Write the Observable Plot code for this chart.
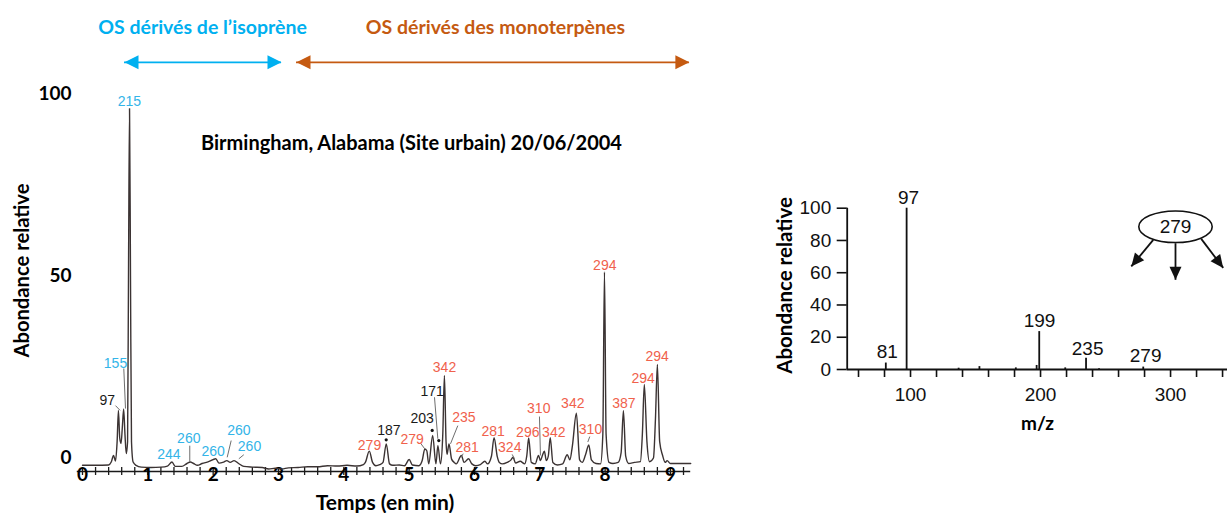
<!DOCTYPE html>
<html lang="fr">
<head>
<meta charset="utf-8">
<title>Chromatogramme</title>
<script src="https://cdn.jsdelivr.net/npm/d3@7"></script>
<script src="https://cdn.jsdelivr.net/npm/@observablehq/plot@0.6"></script>
<style>
  html, body { margin: 0; padding: 0; background: #fff; }
  #wrap { position: relative; width: 1227px; height: 513px; overflow: hidden; background: #fff; }
  #left { position: absolute; left: 0; top: 0; }
  #right { position: absolute; left: 760px; top: 0; }
  svg { display: block; }
</style>
</head>
<body>
<div id="wrap"><div id="left"></div><div id="right"></div></div>
<script>
// ================= DATA =================
// Chromatogram trace: [time (min), relative abundance]
const chromatogram = [
  [0.00,-0.5],[0.20,-0.5],[0.40,-0.4],[0.44,0.4],[0.475,2.2],[0.505,0.7],[0.53,6],[0.55,14.6],
  [0.57,7],[0.59,5.5],[0.61,10],[0.63,15.0],[0.65,8],[0.67,2.7],[0.69,6],[0.705,55],[0.72,97.5],
  [0.735,50],[0.75,6],[0.775,0.4],[0.82,-0.5],[0.90,-1.0],[1.05,-1.1],[1.20,-1.0],[1.30,-0.7],
  [1.37,0.4],[1.42,-0.8],[1.52,-0.8],[1.60,0.0],[1.65,0.4],[1.70,0.0],[1.76,-0.5],[1.83,0.0],
  [1.93,0.5],[2.04,1.3],[2.09,0.1],[2.16,0.4],[2.21,0.8],[2.26,0.3],[2.32,0.8],[2.39,0.0],
  [2.47,-0.8],[2.60,-1.0],[2.75,-1.1],[2.85,-1.5],[2.95,-1.3],[3.05,-1.5],[3.15,-1.2],[3.30,-1.1],
  [3.45,-0.9],[3.60,-0.9],[3.75,-0.6],[3.90,-0.7],[4.05,-0.5],[4.20,-0.7],[4.30,-0.3],
  [4.33,0.3],[4.39,3.4],[4.44,0.3],[4.49,-0.6],[4.55,-0.3],[4.60,0.3],[4.65,5.4],[4.70,-0.1],
  [4.75,-0.5],[4.85,-0.4],[4.93,-0.6],[5.00,1.1],[5.05,-0.4],[5.15,-0.6],[5.20,0.8],[5.24,4.0],
  [5.27,3.5],[5.30,-0.1],[5.36,7.7],[5.41,-0.1],[5.44,4.9],[5.48,-0.1],[5.515,8],[5.54,24.2],
  [5.565,6],[5.58,2.5],[5.61,5.4],[5.65,1.2],[5.69,0.3],[5.72,-0.1],[5.80,2.2],[5.84,0.3],
  [5.91,1.3],[5.96,-0.1],[6.02,-0.6],[6.09,-0.3],[6.16,0.6],[6.20,-0.1],[6.26,2],[6.30,7.1],
  [6.35,1.8],[6.38,0.3],[6.43,-0.1],[6.50,0.3],[6.56,1.0],[6.59,1.7],[6.63,0.1],[6.70,0.6],
  [6.77,-0.1],[6.80,2],[6.83,7.0],[6.87,0.3],[6.93,-0.1],[6.98,2.2],[7.01,0.8],[7.04,2.2],
  [7.07,3.4],[7.10,0.8],[7.13,2],[7.16,7.1],[7.20,0.3],[7.27,-0.4],[7.35,-0.1],[7.42,2.4],
  [7.46,1.0],[7.50,5],[7.56,13.8],[7.61,1.0],[7.65,0.3],[7.70,2.4],[7.75,5.1],[7.79,1.0],
  [7.86,0.0],[7.93,-0.1],[7.965,8],[7.99,52.6],[8.015,8],[8.06,0.3],[8.12,0.0],[8.20,0.3],
  [8.245,3],[8.28,14.5],[8.315,2],[8.36,0.0],[8.45,0.3],[8.54,0.5],[8.57,8],[8.60,21.7],
  [8.64,6],[8.68,0.5],[8.74,1.5],[8.77,12],[8.80,27.2],[8.835,6],[8.88,2.2],[8.92,0.3],
  [8.95,0.8],[9.00,0.0],[9.15,0.0],[9.31,0.0]
];

// Peak labels (m/z of the organosulfate), position in data units, family
const peakLabelText  = ["215","155","97","244","260","260","260","260","279","187","279","203","171","342","235","281","281","324","296","310","342","342","310","294","387","294","294"];
const peakLabelTime  = [0.719,0.505,0.378,1.321,1.627,2.000,2.393,2.556,4.393,4.689,5.047,5.200,5.353,5.541,5.837,5.889,6.286,6.540,6.816,6.984,7.214,7.505,7.776,7.995,8.286,8.582,8.797];
const peakLabelAbund = [99.5,27.6,17.3,2.5,6.8,3.4,9.1,4.7,4.9,9.1,6.5,12.3,19.8,26.3,12.6,4.3,8.9,4.3,8.6,15.0,8.6,16.4,9.3,54.4,16.4,23.3,29.4];
const peakLabelGroup = ["iso","iso","other","iso","iso","iso","iso","iso","mono","other","mono","other","other","mono","mono","mono","mono","mono","mono","mono","mono","mono","mono","mono","mono","mono","mono"];

// Leader lines from labels to peaks
const leaderT1 = [0.632,0.505,1.642,2.276,2.469,5.174,5.388,5.745,5.827,6.577,6.995,7.765];
const leaderV1 = [26.1,15.9,4.9,6.3,2.4,5.6,18.2,10.4,2.7,2.5,12.9,7.4];
const leaderT2 = [0.658,0.575,1.642,2.215,2.393,5.240,5.439,5.633,5.797,6.613,7.010,7.735];
const leaderV2 = [15.1,14.6,0.4,1.7,1.3,4.0,6.8,5.4,1.7,1.3,2.2,5.9];

// Asterisk markers
const starTime  = [4.649,5.353,5.454];
const starAbund = [6.5,9.1,6.3];

// Section headers and arrows
const sectionTitle = ["OS dérivés de l’isoprène","OS dérivés des monoterpènes"];
const sectionTitleTime = [1.837,6.320];
const sectionColor = ["#00b0f0","#c55a11"];
const sectionStart = [0.643,3.276];
const sectionEnd   = [3.046,9.290];
const sectionTitleLevel = 119.8;
const sectionArrowLevel = 110.2;

const chartTitle = "Birmingham, Alabama (Site urbain) 20/06/2004";
const chartTitleTime = 5.036, chartTitleLevel = 87.9;

const xTickLabels = [0,1,2,3,4,5,6,7,8,9];
const xMinorTicks = d3.range(0, 47).map(i => i / 5);
const yTickLabels = [0,50,100];

// Mass spectrum (right)
const msMz    = [81, 97, 137, 153, 181, 197, 199, 219, 235, 245, 279];
const msAbund = [4, 100, 0.8, 1.8, 1, 2.5, 23.5, 1, 7, 0.4, 1.5];
const msLabelText  = ["97","81","199","235","279"];
const msLabelMz    = [98.5, 82.1, 199.2, 236.2, 280.8];
const msLabelAbund = [106.6, 10.7, 30.4, 13.0, 8.7];
const msYTicks = [0,20,40,60,80,100];
const msXTicks = [60,80,100,120,140,160,180,200,220,240,260,280,300,320,340];
const msDomain = [51.3, 343.8];

// Fragmentation scheme
const fragCenterMz = 303.8, fragCenterAbund = 88.5, fragText = "279";
const fragX1 = [286.7, 303.8, 323.6];
const fragY1 = [80.4, 78.3, 81.0];
const fragX2 = [269.8, 303.8, 340.5];
const fragY2 = [63.9, 55.6, 63.0];

// ================= STYLE =================
const F_BOLD = "Lato, 'Open Sans', sans-serif";
const F_ARIAL = "'Liberation Sans', Arial, Helvetica, sans-serif";
const groupColor = {iso: "#33b4e8", mono: "#f0614c", other: "#1a1a1a"};

function arrowHead(angle, len, half) {
  const c = Math.cos(angle), s = Math.sin(angle);
  return {
    draw(ctx) {
      const bx = -len * c, by = -len * s;
      ctx.moveTo(0, 0);
      ctx.lineTo(bx - half * s, by + half * c);
      ctx.lineTo(bx + half * s, by - half * c);
      ctx.closePath();
    }
  };
}
function ellipseSymbol(a, b) {
  const k = 0.5523;
  return {
    draw(ctx) {
      ctx.moveTo(a, 0);
      ctx.bezierCurveTo(a, k * b, k * a, b, 0, b);
      ctx.bezierCurveTo(-k * a, b, -a, k * b, -a, 0);
      ctx.bezierCurveTo(-a, -k * b, -k * a, -b, 0, -b);
      ctx.bezierCurveTo(k * a, -b, a, -k * b, a, 0);
      ctx.closePath();
    }
  };
}

// ================= LEFT: chromatogram =================
const idxPeak = d3.range(peakLabelText.length);
const idxLead = d3.range(leaderT1.length);
const idxSec = d3.range(sectionTitle.length);

const left = Plot.plot({
  width: 720, height: 513,
  marginLeft: 82, marginRight: 29.8, marginTop: 8, marginBottom: 35.44,
  x: {domain: [0, 9.31], axis: null},
  y: {domain: [-4, 125], axis: null},
  color: {type: "identity"},
  style: {background: "white", overflow: "visible"},
  marks: [
    // x axis
    Plot.ruleY([-2.2], {x1: -0.08, x2: 9.31, stroke: "#1a1a1a", strokeWidth: 1.6}),
    Plot.ruleX(xMinorTicks, {x: d => d, y1: -1.1, y2: -3.3, stroke: "#1a1a1a", strokeWidth: 1.3}),
    Plot.text(xTickLabels, {x: d => d, y: () => -3.0, text: d => String(d), fontSize: 19, fontWeight: "bold", fontFamily: F_BOLD, fill: "#000"}),
    Plot.text(["Temps (en min)"], {x: () => 4.63, y: () => -11, text: d => d, fontSize: 21, fontWeight: "bold", fontFamily: F_BOLD, fill: "#000"}),
    // y axis labels
    Plot.text(yTickLabels, {frameAnchor: "left", y: d => d, text: d => String(d), textAnchor: "end", dx: -11, dy: -6, fontSize: 19, fontWeight: "bold", fontFamily: F_BOLD, fill: "#000"}),
    Plot.text(["Abondance relative"], {x: () => -0.923, y: () => 53.0, rotate: -90, text: d => d, fontSize: 20.2, fontWeight: "bold", fontFamily: F_BOLD, fill: "#000"}),
    // trace
    Plot.line(chromatogram, {x: d => d[0], y: d => d[1], curve: "monotone-x", stroke: "#3b3333", strokeWidth: 1.4}),
    // leader lines
    Plot.link(idxLead, {x1: i => leaderT1[i], y1: i => leaderV1[i], x2: i => leaderT2[i], y2: i => leaderV2[i], stroke: "#6e6e6e", strokeWidth: 1}),
    // stars
    Plot.dot(d3.range(starTime.length), {x: i => starTime[i], y: i => starAbund[i], r: 1.6, fill: "#111", stroke: "none"}),
    // peak labels
    Plot.text(idxPeak, {x: i => peakLabelTime[i], y: i => peakLabelAbund[i], text: i => peakLabelText[i], fill: i => groupColor[peakLabelGroup[i]], fontSize: 14, fontFamily: F_ARIAL}),
    // chart title
    Plot.text([chartTitle], {x: () => chartTitleTime, y: () => chartTitleLevel, text: d => d, fontSize: 20, fontWeight: "bold", fontFamily: F_BOLD, fill: "#000"}),
    // section titles and arrows
    Plot.text(idxSec, {x: i => sectionTitleTime[i], y: () => sectionTitleLevel, text: i => sectionTitle[i], fill: i => sectionColor[i], fontSize: 19.5, fontWeight: "bold", fontFamily: F_BOLD}),
    Plot.ruleY(idxSec, {y: () => sectionArrowLevel, x1: i => sectionStart[i], x2: i => sectionEnd[i], stroke: i => sectionColor[i], strokeWidth: 1.6}),
    Plot.dot(idxSec, {x: i => sectionStart[i], y: () => sectionArrowLevel, symbol: arrowHead(Math.PI, 14, 7), fill: i => sectionColor[i], stroke: "none"}),
    Plot.dot(idxSec, {x: i => sectionEnd[i], y: () => sectionArrowLevel, symbol: arrowHead(0, 14, 7), fill: i => sectionColor[i], stroke: "none"})
  ]
});
document.getElementById("left").appendChild(left);

// ================= RIGHT: mass spectrum =================
const R_W = 467, R_H = 513, R_ML = 86.7, R_MR = 0, R_MT = 207.7, R_MB = 144;
const sx = Plot.scale({x: {domain: msDomain, range: [R_ML, R_W - R_MR]}});
const sy = Plot.scale({y: {domain: [0, 100], range: [R_H - R_MB, R_MT]}});
const fragHeads = d3.range(fragX1.length).map(i => {
  const ang = Math.atan2(sy.apply(fragY2[i]) - sy.apply(fragY1[i]), sx.apply(fragX2[i]) - sx.apply(fragX1[i]));
  return Plot.dot([i], {x: j => fragX2[j], y: j => fragY2[j], symbol: arrowHead(ang, 13, 6), fill: "#111", stroke: "none"});
});

const right = Plot.plot({
  width: R_W, height: R_H,
  marginLeft: R_ML, marginRight: R_MR, marginTop: R_MT, marginBottom: R_MB,
  x: {domain: msDomain},
  y: {domain: [0, 100]},
  style: {background: "white", overflow: "visible", color: "#111", fontFamily: F_ARIAL, fontSize: "19px"},
  marks: [
    Plot.axisY({ticks: msYTicks, tickSize: 10, tickPadding: 6, label: null, fontSize: 19, fontFamily: F_ARIAL, strokeWidth: 1.6}),
    Plot.axisX({ticks: msXTicks, tickSize: 8, tickPadding: 10, label: null, tickFormat: d => (d % 100 === 0 ? String(d) : ""), fontSize: 19, fontFamily: F_ARIAL, strokeWidth: 1.6}),
    Plot.ruleX([msDomain[0]], {y1: 0, y2: 100, stroke: "#111", strokeWidth: 1.8}),
    Plot.ruleY([0], {x1: msDomain[0], x2: msDomain[1], stroke: "#111", strokeWidth: 1.8}),
    Plot.ruleX(d3.range(msMz.length), {x: i => msMz[i], y1: 0, y2: i => msAbund[i], stroke: "#111", strokeWidth: 1.8}),
    Plot.text(d3.range(msLabelText.length), {x: i => msLabelMz[i], y: i => msLabelAbund[i], text: i => msLabelText[i], fontSize: 19, fontFamily: F_ARIAL, fill: "#111"}),
    Plot.text(["Abondance relative"], {x: () => 3.85, y: () => 52.1, rotate: -90, text: d => d, fontSize: 20.5, fontWeight: "bold", fontFamily: F_BOLD, fill: "#000"}),
    Plot.text(["m/z"], {x: () => 197.7, y: () => -33.5, text: d => d, fontSize: 19, fontWeight: "bold", fontFamily: F_BOLD, fill: "#000"}),
    // fragmentation scheme
    Plot.link(d3.range(fragX1.length), {x1: i => fragX1[i], y1: i => fragY1[i], x2: i => fragX2[i], y2: i => fragY2[i], stroke: "#111", strokeWidth: 1.8}),
    ...fragHeads,
    Plot.dot([0], {x: () => fragCenterMz, y: () => fragCenterAbund, symbol: ellipseSymbol(36.7, 15.8), fill: "white", stroke: "#111", strokeWidth: 1.6}),
    Plot.text([fragText], {x: () => fragCenterMz, y: () => fragCenterAbund, text: d => d, fontSize: 19, fontFamily: F_ARIAL, fill: "#111"})
  ]
});
document.getElementById("right").appendChild(right);
</script>
</body>
</html>
